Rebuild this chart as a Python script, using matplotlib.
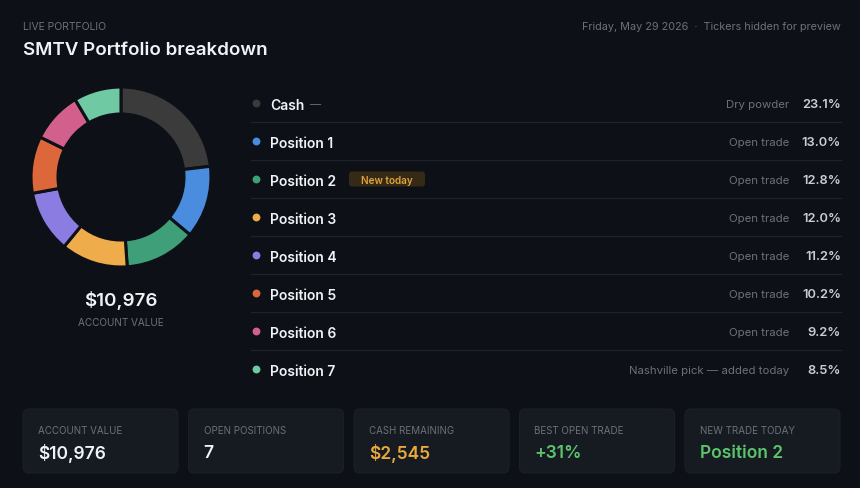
import matplotlib
matplotlib.use("Agg")
import matplotlib.pyplot as plt
from matplotlib.patches import FancyBboxPatch

plt.rcParams['font.family'] = ['Inter', 'DejaVu Sans']

# data
names = ["Cash", "Position 1", "Position 2", "Position 3", "Position 4",
         "Position 5", "Position 6", "Position 7"]
weights = [23.1, 13.0, 12.8, 12.0, 11.2, 10.2, 9.2, 8.5]
notes = ["Dry powder", "Open trade", "Open trade", "Open trade", "Open trade",
         "Open trade", "Open trade", "Nashville pick \u2014 added today"]
slice_colors = ["#3b3b3b", "#4a8ddf", "#3e9f78", "#eeac4a", "#8a7ce0",
                "#dc673a", "#d3608c", "#6fc9a2"]

card_labels = ["ACCOUNT VALUE", "OPEN POSITIONS", "CASH REMAINING",
               "BEST OPEN TRADE", "NEW TRADE TODAY"]
card_values = ["$10,976", "7", "$2,545", "+31%", "Position 2"]
card_colors = ["#f0f3f6", "#f0f3f6", "#e9a93c", "#5cc46c", "#5cc46c"]

account_value = "$10,976"

BG = "#0d1016"
CARD = "#161a21"
MUTED = "#6b717b"
WHITE = "#f0f3f6"
DY = 1.5  # small nudge so text centres sit like the reference

W, H = 860, 489
fig = plt.figure(figsize=(W / 100, H / 100), dpi=100, facecolor=BG)

# canvas axes in pixel units, y down
ax = fig.add_axes([0, 0, 1, 1])
ax.set_xlim(0, W)
ax.set_ylim(H, 0)
ax.axis("off")
ax.set_facecolor(BG)

# header
ax.text(23, 25 + DY, "LIVE PORTFOLIO", color=MUTED, fontsize=7.5, va="center")
ax.text(23, 49 + DY, "SMTV Portfolio breakdown", color=WHITE, fontsize=13.5,
        fontweight="semibold", va="center")
ax.text(841, 25 + DY, "Friday, May 29 2026  \u00b7  Tickers hidden for preview",
        color=MUTED, fontsize=7.8, va="center", ha="right")

# donut
cx, cy, r = 121, 178, 90
dax = fig.add_axes([(cx - r) / W, (H - cy - r) / H, 2 * r / W, 2 * r / H])
dax.pie(weights, colors=slice_colors, startangle=90, counterclock=False,
        radius=1, wedgeprops=dict(width=0.3, edgecolor=BG, linewidth=2.2))
dax.set_xlim(-1, 1)
dax.set_ylim(-1, 1)
dax.set_aspect("equal")
dax.axis("off")

ax.text(cx, 299 + DY, account_value, color=WHITE, fontsize=13.5,
        fontweight="semibold", ha="center", va="center")
ax.text(cx, 321 + DY, "ACCOUNT VALUE", color=MUTED, fontsize=7.2,
        ha="center", va="center")

# list rows
row0, step = 104, 38
for i, (nm, w, note, c) in enumerate(zip(names, weights, notes, slice_colors)):
    y = row0 + i * step
    ax.scatter([256], [y], s=32, color=c, zorder=3, linewidths=0)
    ax.text(270, y + DY, nm, color=WHITE, fontsize=10, fontweight="semibold",
            va="center")
    if nm == "Cash":
        ax.text(310, y + DY, "\u2014", color=MUTED, fontsize=8, va="center")
    if nm == "Position 2":
        ax.add_patch(FancyBboxPatch((349, y - 7.5), 76, 15,
                                    boxstyle="round,pad=0,rounding_size=3",
                                    fc="#352a15", ec="none"))
        ax.text(387, y + DY, "New today", color="#dfa23c", fontsize=7.2,
                fontweight="semibold", ha="center", va="center")
    ax.text(789, y + DY, note, color=MUTED, fontsize=8.2, ha="right", va="center")
    ax.text(841, y + DY, f"{w:.1f}%", color="#c9ced6", fontsize=9.3,
            fontweight="semibold", ha="right", va="center")
    if i < len(names) - 1:
        ax.plot([251, 841], [y + 19, y + 19], color="#1e232b", lw=0.9)

# stat cards
x0, cw, gap = 23, 155, 10.5
for i, (lab, val, col) in enumerate(zip(card_labels, card_values, card_colors)):
    x = x0 + i * (cw + gap)
    ax.add_patch(FancyBboxPatch((x, 410), cw, 64,
                                boxstyle="round,pad=0,rounding_size=6",
                                fc=CARD, ec="#1b2028", lw=0.8))
    ax.text(x + 15, 429 + DY, lab, color=MUTED, fontsize=7, va="center")
    ax.text(x + 15, 452 + DY, val, color=col, fontsize=12.5,
            fontweight="semibold", va="center")

fig.savefig("out.png", dpi=100, facecolor=BG)
